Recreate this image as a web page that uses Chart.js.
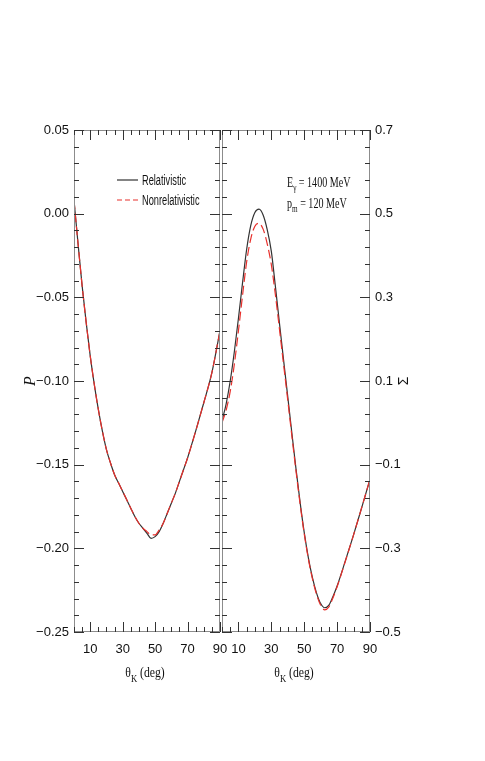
<!DOCTYPE html>
<html>
<head>
<meta charset="utf-8">
<script src="https://cdn.jsdelivr.net/npm/chart.js@4"></script>
<style>
body { margin: 0; background: #fff; }
#wrap { position: relative; width: 485px; height: 761px; }
canvas { position: absolute; left: 0; top: 0; }
</style>
</head>
<body>
<div id="wrap">
<canvas id="polChart" width="485" height="761"></canvas>
<canvas id="sigChart" width="485" height="761"></canvas>
</div>
<script>
// kaon angle (deg)
const theta = [0, 2.5, 5, 7.5, 10, 12.5, 15, 17.5, 20, 22.5, 25, 27.5, 30, 32.5, 35, 37.5, 40, 42.5, 45, 47.5, 50, 52.5, 55, 57.5, 60, 62.5, 65, 67.5, 70, 75, 80, 85, 90];

// recoil polarization P
const polRel = [0.008, -0.018, -0.043, -0.065, -0.085, -0.102, -0.117, -0.130, -0.141, -0.149, -0.156, -0.161, -0.166, -0.171, -0.176, -0.181, -0.185, -0.188, -0.191, -0.194, -0.193, -0.190, -0.185, -0.179, -0.173, -0.167, -0.160, -0.153, -0.146, -0.130, -0.113, -0.095, -0.070];
const polNonrel = [0.008, -0.018, -0.043, -0.065, -0.085, -0.102, -0.117, -0.130, -0.141, -0.149, -0.156, -0.161, -0.166, -0.171, -0.176, -0.181, -0.185, -0.188, -0.190, -0.192, -0.192, -0.189, -0.185, -0.179, -0.173, -0.167, -0.160, -0.153, -0.146, -0.130, -0.113, -0.095, -0.070];

// photon asymmetry Sigma
const sigRel = [0.005, 0.045, 0.10, 0.17, 0.25, 0.335, 0.415, 0.472, 0.503, 0.511, 0.497, 0.462, 0.41, 0.325, 0.236, 0.148, 0.062, -0.025, -0.11, -0.19, -0.262, -0.322, -0.37, -0.407, -0.432, -0.442, -0.436, -0.415, -0.39, -0.33, -0.268, -0.202, -0.135];
const sigNonrel = [0.0, 0.03, 0.075, 0.14, 0.22, 0.305, 0.385, 0.44, 0.47, 0.477, 0.463, 0.428, 0.378, 0.305, 0.222, 0.138, 0.054, -0.032, -0.115, -0.194, -0.265, -0.325, -0.373, -0.41, -0.436, -0.447, -0.44, -0.418, -0.392, -0.331, -0.268, -0.202, -0.135];

const xTicks = [10, 30, 50, 70, 90];
const polTicks = [0.05, 0, -0.05, -0.1, -0.15, -0.2, -0.25];
const sigTicks = [0.7, 0.5, 0.3, 0.1, -0.1, -0.3, -0.5];

const tickFont = { family: "'Liberation Sans Narrow', 'Arial Narrow', 'Liberation Sans', sans-serif", size: 13 };
const fmt = (v, d) => (v < -1e-9 ? '\u2212' : '') + Math.abs(v).toFixed(d);
const pts = ys => theta.map((t, i) => ({ x: t, y: ys[i] }));

const lineSets = (rel, non) => [{
    label: 'Relativistic',
    data: pts(rel),
    borderColor: '#333',
    borderWidth: 1.2,
    pointRadius: 0,
    cubicInterpolationMode: 'monotone',
    order: 1
}, {
    label: 'Nonrelativistic',
    data: pts(non),
    borderColor: '#e8302c',
    borderWidth: 1.2,
    borderDash: [9, 4],
    pointRadius: 0,
    cubicInterpolationMode: 'monotone',
    order: 0
}];

// text with subscripts, squeezed horizontally
function drawParts(ctx, x, y, parts, family, size, squeeze, align) {
    ctx.save();
    ctx.translate(x, y);
    ctx.scale(squeeze, 1);
    ctx.textBaseline = 'alphabetic';
    ctx.textAlign = 'left';
    let w = 0;
    parts.forEach(p => {
        ctx.font = (p[1] ? Math.round(size * 0.7) : size) + 'px ' + family;
        w += ctx.measureText(p[0]).width;
    });
    let cx = align === 'center' ? -w / 2 : 0;
    parts.forEach(p => {
        ctx.font = (p[1] ? Math.round(size * 0.7) : size) + 'px ' + family;
        ctx.fillText(p[0], cx, p[1] ? size * 0.3 : 0);
        cx += ctx.measureText(p[0]).width;
    });
    ctx.restore();
}

const framePlugin = {
    id: 'frame',
    afterDatasetsDraw(chart, args, o) {
        const { ctx, chartArea: a, scales } = chart;
        const xs = scales.x, ys = scales.y;
        ctx.save();
        ctx.strokeStyle = '#8c8c8c';
        ctx.lineWidth = 1;
        ctx.strokeRect(a.left + 0.5, a.top + 0.5, a.right - a.left - 1, a.bottom - a.top - 1);
        ctx.strokeStyle = '#333';
        ctx.beginPath();
        for (let i = 0; i <= 18; i++) {
            const v = i * 5;
            const px = Math.round(xs.getPixelForValue(v)) + 0.5;
            const len = xTicks.includes(v) ? 10 : 5;
            ctx.moveTo(px, a.bottom); ctx.lineTo(px, a.bottom - len);
            ctx.moveTo(px, a.top); ctx.lineTo(px, a.top + len);
        }
        const n = Math.round((ys.max - ys.min) / o.yStep);
        for (let i = 0; i <= n; i++) {
            const v = ys.min + i * o.yStep;
            const py = Math.round(ys.getPixelForValue(v)) + 0.5;
            const len = o.majors.some(m => Math.abs(m - v) < 1e-6) ? 10 : 5;
            ctx.moveTo(a.left, py); ctx.lineTo(a.left + len, py);
            ctx.moveTo(a.right, py); ctx.lineTo(a.right - len, py);
        }
        ctx.stroke();
        ctx.restore();
    },
    afterDraw(chart, args, o) {
        const { ctx, chartArea: a } = chart;
        ctx.save();
        ctx.fillStyle = '#111';
        drawParts(ctx, (a.left + a.right) / 2 - 2, 677, [['\u03b8', false], ['K', true], [' (deg)', false]], "'Liberation Serif', serif", 15, 0.78, 'center');
        // y title, reads bottom to top
        ctx.translate(o.titleX, (a.top + a.bottom) / 2);
        ctx.rotate(-Math.PI / 2);
        ctx.textAlign = 'center';
        ctx.textBaseline = 'middle';
        ctx.font = o.titleFont;
        ctx.fillText(o.title, 0, 0);
        ctx.restore();
    }
};

const legendPlugin = {
    id: 'innerLegend',
    afterDraw(chart) {
        const ctx = chart.ctx;
        const rows = [180, 200];
        ctx.save();
        chart.data.datasets.forEach((ds, i) => {
            ctx.strokeStyle = ds.borderColor;
            ctx.lineWidth = 1.2;
            ctx.setLineDash(ds.borderDash ? [5, 3] : []);
            ctx.beginPath();
            ctx.moveTo(117, rows[i]);
            ctx.lineTo(138, rows[i]);
            ctx.stroke();
            ctx.fillStyle = '#111';
            drawParts(ctx, 142, rows[i] + 5, [[ds.label, false]], "'Liberation Sans', sans-serif", 14, 0.66, 'left');
        });
        ctx.restore();
    }
};

const notePlugin = {
    id: 'note',
    afterDraw(chart) {
        const ctx = chart.ctx;
        ctx.save();
        ctx.fillStyle = '#111';
        drawParts(ctx, 287, 187, [['E', false], ['\u03b3', true], [' = 1400 MeV', false]], "'Liberation Serif', serif", 14, 0.72, 'left');
        drawParts(ctx, 287, 208, [['p', false], ['m', true], [' = 120 MeV', false]], "'Liberation Serif', serif", 14, 0.72, 'left');
        ctx.restore();
    }
};

const xScale = {
    type: 'linear',
    min: 0,
    max: 90,
    afterBuildTicks: s => { s.ticks = xTicks.map(v => ({ value: v })); },
    afterFit: s => { s.height = 60; },
    grid: { display: false, drawTicks: false },
    border: { display: false },
    ticks: { padding: 10, color: '#111', font: tickFont, maxRotation: 0, autoSkip: false }
};

new Chart(document.getElementById('polChart'), {
    type: 'line',
    data: { datasets: lineSets(polRel, polNonrel) },
    plugins: [framePlugin, legendPlugin],
    options: {
        responsive: false,
        animation: false,
        layout: { padding: { left: 0, right: 265, top: 130, bottom: 69 } },
        plugins: {
            legend: { display: false },
            tooltip: { enabled: false },
            frame: { yStep: 0.01, majors: polTicks, title: 'P', titleX: 31, titleFont: "italic 16px 'Liberation Serif', serif" }
        },
        scales: {
            x: xScale,
            y: {
                min: -0.25,
                max: 0.05,
                afterBuildTicks: s => { s.ticks = polTicks.map(v => ({ value: v })); },
                afterFit: s => { s.width = 74; },
                grid: { display: false, drawTicks: false },
                border: { display: false },
                ticks: { padding: 5, color: '#111', font: tickFont, callback: v => fmt(v, 2) }
            }
        }
    }
});

new Chart(document.getElementById('sigChart'), {
    type: 'line',
    data: { datasets: lineSets(sigRel, sigNonrel) },
    plugins: [framePlugin, notePlugin],
    options: {
        responsive: false,
        animation: false,
        layout: { padding: { left: 222, right: 0, top: 130, bottom: 69 } },
        plugins: {
            legend: { display: false },
            tooltip: { enabled: false },
            frame: { yStep: 0.04, majors: sigTicks, title: '\u03a3', titleX: 404, titleFont: "14px 'Liberation Sans', sans-serif" }
        },
        scales: {
            x: xScale,
            y: {
                position: 'right',
                min: -0.5,
                max: 0.7,
                afterBuildTicks: s => { s.ticks = sigTicks.map(v => ({ value: v })); },
                afterFit: s => { s.width = 115; },
                grid: { display: false, drawTicks: false },
                border: { display: false },
                ticks: { padding: 5, color: '#111', font: tickFont, callback: v => fmt(v, 1) }
            }
        }
    }
});
</script>
</body>
</html>
